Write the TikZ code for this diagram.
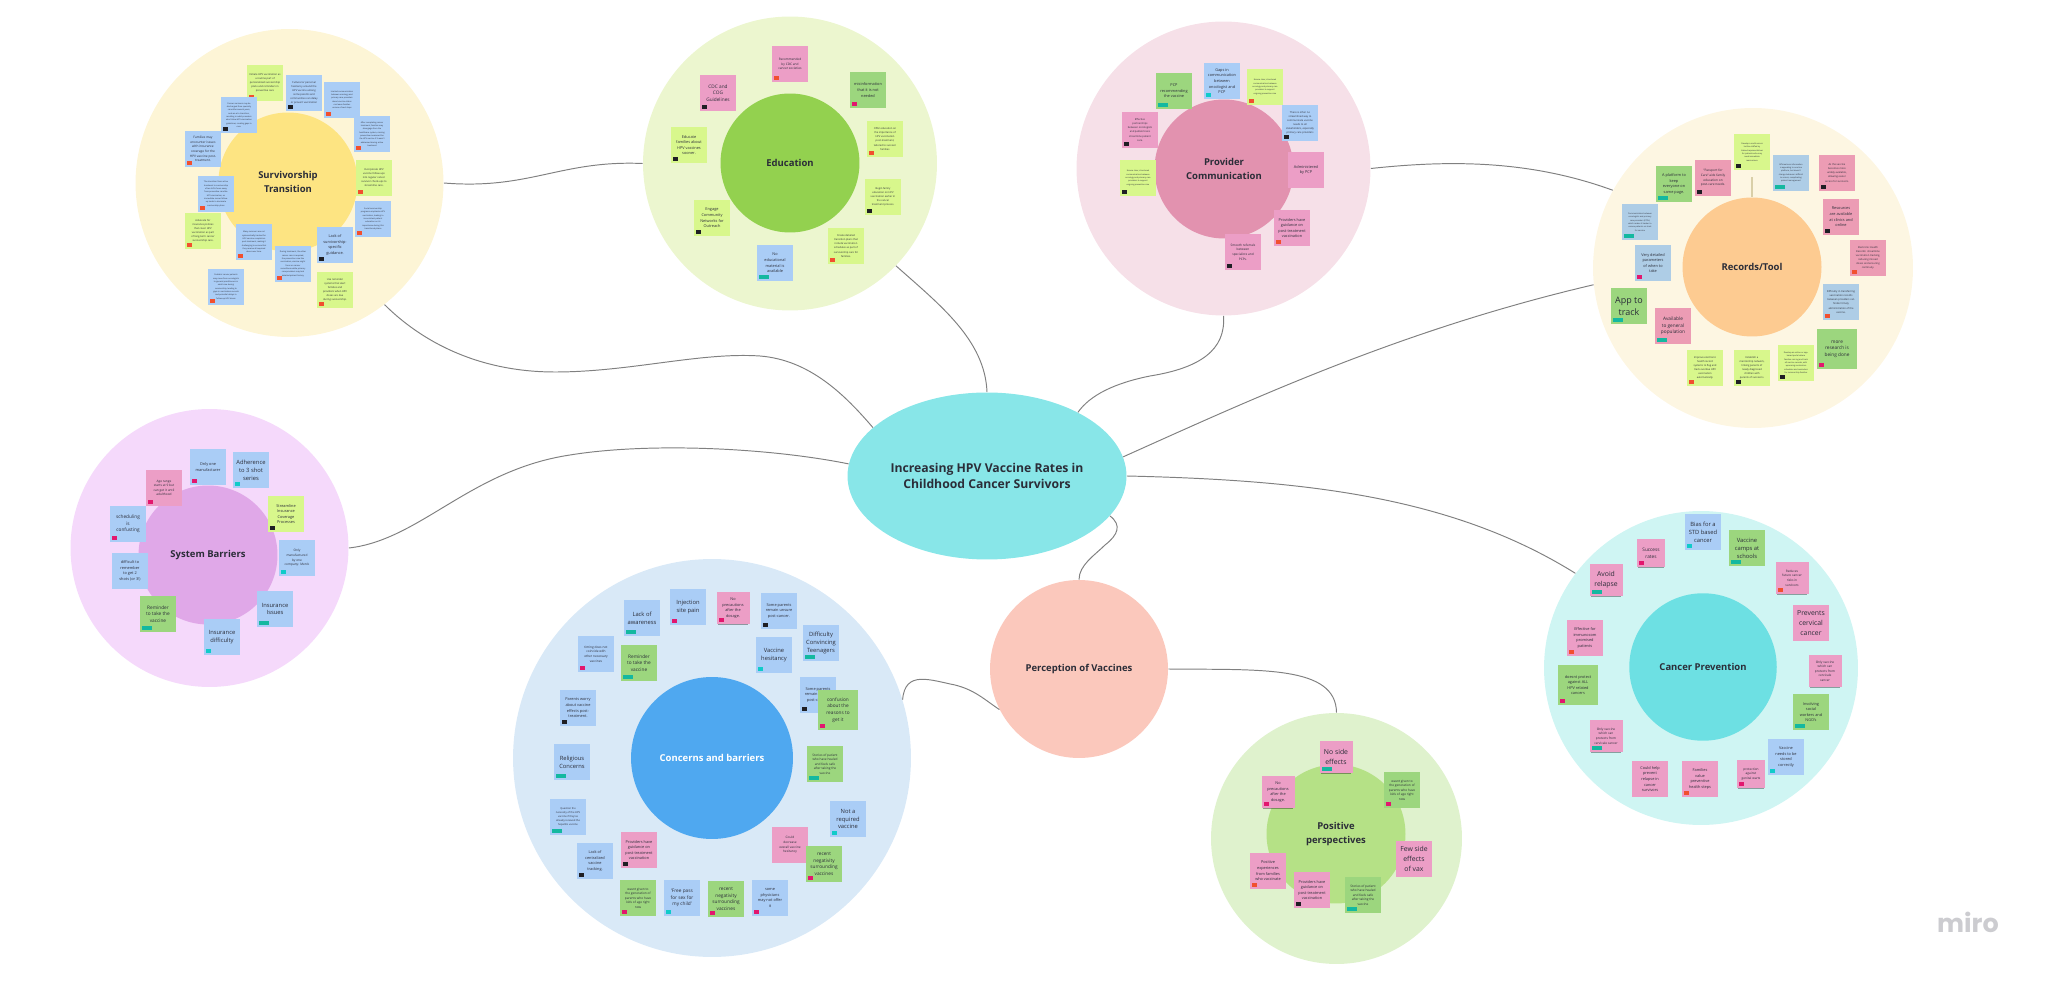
\documentclass[tikz,border=0pt]{standalone}
\usepackage{fontspec}
\setmainfont{Open Sans}
\newfontfamily\logofont{Poppins}
\usetikzlibrary{shapes.geometric,shadows}
\definecolor{ink}{HTML}{2B2D38}
\definecolor{nblue}{HTML}{AACDF6}
\definecolor{npink}{HTML}{EC9EC6}
\definecolor{ngreen}{HTML}{9CD67E}
\definecolor{nlime}{HTML}{D8F78C}
\definecolor{nsteel}{HTML}{AECDE6}
\definecolor{nrose}{HTML}{EC9CB4}
\definecolor{tagred}{HTML}{F1502F}
\definecolor{tagblack}{HTML}{1F1F24}
\definecolor{tagteal}{HTML}{14B8A0}
\definecolor{tagcyan}{HTML}{10CBC9}
\definecolor{tagmag}{HTML}{E2176E}
\definecolor{survring}{HTML}{FDF5D6}
\definecolor{survhub}{HTML}{FDE482}
\definecolor{eduring}{HTML}{ECF6CF}
\definecolor{eduhub}{HTML}{93D14F}
\definecolor{provring}{HTML}{F6E0E8}
\definecolor{provhub}{HTML}{E292AF}
\definecolor{recring}{HTML}{FDF6E2}
\definecolor{rechub}{HTML}{FDCB91}
\definecolor{sysring}{HTML}{F5D9FB}
\definecolor{syshub}{HTML}{E0A8E8}
\definecolor{concring}{HTML}{D9E9F7}
\definecolor{conchub}{HTML}{4FA8F0}
\definecolor{canring}{HTML}{CFF5F3}
\definecolor{canhub}{HTML}{6DE0E3}
\definecolor{posring}{HTML}{DFF2CD}
\definecolor{poshub}{HTML}{B5E186}
\definecolor{perchub}{HTML}{FBC8BC}
\definecolor{centralhub}{HTML}{88E6E8}
\definecolor{stemtan}{HTML}{D9CFA8}
\definecolor{logogray}{HTML}{CCCCD0}
\tikzset{
  fz/.style={font=\fontsize{1.15}{1.9}\selectfont},
  fa/.style={font=\fontsize{1.45}{2.3}\selectfont},
  fb/.style={font=\fontsize{1.8}{2.6}\selectfont},
  fc/.style={font=\fontsize{2.2}{3.2}\selectfont},
  fd/.style={font=\fontsize{2.7}{3.8}\selectfont},
  fe/.style={font=\fontsize{3.3}{4.5}\selectfont},
  ff/.style={font=\fontsize{3.9}{5.7}\selectfont},
  fg/.style={font=\fontsize{5.1}{7}\selectfont},
  note/.style={rectangle,minimum size=.72cm,inner sep=0pt,align=center,text=ink,
    general shadow={shadow xshift=0pt,shadow yshift=-1.4pt,shadow scale=.9,fill=black,opacity=.35}},
  bignote/.style={note,minimum size=.8cm},
  midnote/.style={note,minimum size=.66cm},
  smallnote/.style={note,minimum size=.56cm},
  tagged/.style n args={2}{path picture={\fill[#1] ([shift={(2,-2)}]path picture bounding box.south west) rectangle ++(#2,-4);}},
  tred/.style={tagged={tagred}{5}},
  tblk/.style={tagged={tagblack}{5}},
  tteal/.style={tagged={tagteal}{10}},
  tcyan/.style={tagged={tagcyan}{5}},
  tmag/.style={tagged={tagmag}{5}},
  ring/.style={circle,inner sep=0pt},
  hub/.style={circle,inner sep=0pt,minimum size=2.78cm,align=center,text=ink,font=\fontsize{5.4}{7.5}\selectfont\bfseries},
  link/.style={draw=black!50,line width=.55pt}
}
\begin{document}
\begin{tikzpicture}[x=0.02cm,y=-0.02cm]
	\useasboundingbox (0,0) rectangle (2048,982);
	% outer rings
	\node[ring,fill=survring,minimum size=6.16cm] (surv_o) at (289.5,183) {};
	\node[ring,fill=eduring,minimum size=5.88cm] (edu_o) at (790,163.5) {};
	\node[ring,fill=provring,minimum size=5.88cm] (prov_o) at (1223.5,168.5) {};
	\node[ring,fill=recring,minimum size=6.4cm] (rec_o) at (1753,268) {};
	\node[ring,fill=sysring,minimum size=5.56cm] (sys_o) at (209.5,548) {};
	\node[ring,fill=concring,minimum size=7.96cm] (conc_o) at (712,758) {};
	\node[ring,fill=canring,minimum size=6.28cm] (can_o) at (1701,668) {};
	\node[ring,fill=posring,minimum size=5.02cm] (pos_o) at (1336.5,838.5) {};
	% hubs
	\node[hub,fill=survhub] (surv) at (288,182) {Survivorship\\Transition};
	\node[hub,fill=eduhub] (edu) at (790,163) {Education};
	\node[hub,fill=provhub] (prov) at (1224,169) {Provider\\Communication};
	\node[hub,fill=rechub] (rec) at (1752,267) {Records/Tool};
	\node[hub,fill=syshub] (sys) at (208,555) {System Barriers};
	\node[hub,fill=conchub,minimum size=3.24cm,text=white] (conc) at (712,758) {Concerns and barriers};
	\node[hub,fill=canhub,minimum size=2.95cm] (can) at (1703,667) {Cancer Prevention};
	\node[hub,fill=poshub] (pos) at (1336,834) {Positive\\perspectives};
	\node[hub,fill=perchub,minimum size=3.56cm] (perc) at (1079,669) {Perception of Vaccines};
	\node[ellipse,inner sep=0pt,fill=centralhub,minimum width=5.58cm,minimum height=3.34cm,align=center,text=ink,font=\fontsize{6.95}{9}\selectfont\bfseries] (central) at (987,476) {Increasing HPV Vaccine Rates in\\Childhood Cancer Survivors};
	% connectors
	\draw[link] (surv_o.-52) .. controls (415,335) and (470,372) .. (555,372) .. controls (630,372) and (700,352) .. (760,356) .. controls (810,360) and (845,395) .. (central.157);
	\draw[link] (surv_o.0) .. controls (530,190) and (560,160) .. (edu_o.180);
	\draw[link] (edu_o.-44) .. controls (940,305) and (985,340) .. (central.90);
	\draw[link] (prov_o.-90) .. controls (1226,350) and (1200,368) .. (1150,376) .. controls (1115,383) and (1090,395) .. (central.35);
	\draw[link] (central.8) .. controls (1250,400) and (1400,330) .. (rec_o.186);
	\draw[link] (prov_o.0) .. controls (1450,160) and (1530,160) .. (rec_o.151);
	\draw[link] (central.0) .. controls (1300,480) and (1450,495) .. (can_o.143);
	\draw[link] (sys_o.0) .. controls (420,540) and (470,470) .. (570,455) .. controls (650,442) and (770,448) .. (central.175);
	\draw[link] (central.-18) .. controls (1122,525) and (1118,535) .. (1105,545) .. controls (1095,555) and (1079,565) .. (perc.90);
	\draw[link] (perc.207) .. controls (985,700) and (975,690) .. (955,685) .. controls (930,680) and (905,670) .. (conc_o.17);
	\draw[link] (perc.0) .. controls (1260,670) and (1336,665) .. (pos_o.90);
	% survivorship notes
	\node[note,fill=nlime,tred,fa] (surv_1) at (265,83) {Initiate HPV vaccination as\\a routine part of\\personalized survivorship\\plans and reminders in\\preventive care};
	\node[note,fill=nblue,tblk,fa] (surv_2) at (304,93) {Cultural or personal\\hesitancy around the\\HPV vaccine among\\some parents and\\communities can delay\\or prevent vaccination};
	\node[note,fill=nblue,tred,fz] (surv_3) at (342,100) {Limited communication\\between oncology and\\primary care providers\\about vaccine status\\can leave families\\unsure of next steps};
	\node[note,fill=nblue,tred,fz] (surv_4) at (372,134) {After completing cancer\\treatment, families may\\disengage from the\\healthcare system, missing\\preventive measures like\\the HPV vaccine if it wasn't\\addressed during active\\treatment};
	\node[note,fill=nlime,tred,fa] (surv_5) at (374,178) {Incorporate HPV\\vaccine follow-ups\\into regular cancer\\survivor check-ups to\\streamline care.};
	\node[note,fill=nblue,tred,fz] (surv_6) at (373,219) {Social survivorship\\programs emphasize HPV\\vaccination, leading to\\inconsistent patient\\education on its\\importance during this\\transitional phase};
	\node[note,fill=nblue,tblk,fc] (surv_7) at (335,245) {Lack of\\survivorship-\\specific\\guidance.};
	\node[note,fill=nlime,tred,fa] (surv_8) at (335,290) {Use reminder\\systems that alert\\families and\\providers when HPV\\doses are due\\during survivorship.};
	\node[note,fill=nblue,tred,fz] (surv_9) at (293,264) {During treatment, the other\\cancer care is required,\\the prevention care like\\vaccination, vaccine might\\focus on cancer\\surveillance while primary\\care providers may lack\\detailed patient history};
	\node[note,fill=nblue,tred,fz] (surv_10) at (254,242) {Many survivors are not\\systematically tracked for\\HPV vaccine completion\\post-treatment, making it\\challenging to ensure that\\they receive all required\\doses over time.};
	\node[note,fill=nblue,tred,fz] (surv_11) at (226,287) {Pediatric cancer patients\\may move from oncologists\\to general practitioners in\\adult care during\\survivorship, leading to\\gaps in vaccination records\\and potential delays in\\follow-up HPV doses};
	\node[note,fill=nlime,tred,fa] (surv_12) at (203,231) {Advocate for\\insurance policies\\that cover HPV\\vaccination as part\\of long-term cancer\\survivorship care.};
	\node[note,fill=nblue,tred,fz] (surv_13) at (216,194) {The transition from active\\treatment to survivorship\\often shifts focus away\\from preventive care like\\HPV vaccination, as\\immediate cancer follow-\\up tends to dominate\\survivorship plans};
	\node[note,fill=nblue,tred,fb] (surv_14) at (203,149) {Families may\\encounter issues\\with insurance\\coverage for the\\HPV vaccine post-\\treatment.};
	\node[note,fill=nblue,tblk,fz] (surv_15) at (239,115) {Cancer survivors may be\\discharged from specialty\\care after several years,\\and are at a transition,\\resulting in adult providers\\who follow HPV vaccination\\guidelines, creating gaps in\\care.};
	% education notes
	\node[note,fill=npink,tred,fb] (edu_1) at (790,64) {Recommended\\by CDC and\\cancer societies};
	\node[note,fill=ngreen,tmag,fc] (edu_2) at (868,90) {misinformation\\that it is not\\needed};
	\node[note,fill=nlime,tred,fa] (edu_3) at (885,139) {Offer education on\\the importance of\\HPV vaccination\\post-treatment,\\tailored to survivor\\families};
	\node[note,fill=nlime,tblk,fa] (edu_4) at (883,197) {Begin family\\education on HPV\\vaccination earlier in\\the cancer\\treatment process.};
	\node[note,fill=nlime,tred,fa] (edu_5) at (846,246) {Create detailed\\transition plans that\\include vaccination\\schedules as part of\\survivorship care for\\families.};
	\node[note,fill=nblue,tteal,fc] (edu_6) at (775,263) {No\\educational\\material is\\available};
	\node[note,fill=nlime,tblk,fc] (edu_7) at (712,218) {Engage\\Community\\Networks for\\Outreach};
	\node[note,fill=nlime,tblk,fc] (edu_8) at (689,145) {Educate\\families about\\HPV vaccines\\sooner.};
	\node[note,fill=npink,tblk,fd] (edu_9) at (718,93) {CDC and\\COG\\Guidelines};
	% provider notes
	\node[note,fill=ngreen,tteal,fc] (prov_1) at (1174,91) {PCP\\recommending\\the vaccine};
	\node[note,fill=nblue,tcyan,fc] (prov_2) at (1222,81) {Gaps in\\communication\\between\\oncologist and\\PCP};
	\node[note,fill=nlime,tred,fz] (prov_3) at (1265,87) {Ensure clear, structured\\communication between\\oncology and primary care\\providers to support\\ongoing preventive care};
	\node[note,fill=nblue,tblk,fa] (prov_4) at (1300,123) {There is often no\\streamlined way to\\communicate vaccine\\needs to all\\stakeholders, especially\\primary care providers};
	\node[note,fill=npink,fc] (prov_5) at (1306,170) {Administered\\by PCP};
	\node[note,fill=npink,tred,fc] (prov_6) at (1292,228) {Providers have\\guidance on\\post-treatment\\vaccination};
	\node[note,fill=npink,tblk,fb] (prov_7) at (1243,252) {Smooth referrals\\between\\specialists and\\PCPs.};
	\node[note,fill=npink,tblk,fa] (prov_8) at (1140,130) {Effective\\partnerships\\between oncologists\\and pediatricians\\streamline patient\\care.};
	\node[note,fill=nlime,tblk,fz] (prov_9) at (1138,178) {Ensure clear, structured\\communication between\\oncology and primary care\\providers to support\\ongoing preventive care};
	% records notes
	\node[note,fill=ngreen,tteal,fc] (rec_1) at (1674,184) {A platform to\\keep\\everyone on\\same page.};
	\node[note,fill=nrose,tblk,fb] (rec_2) at (1713,178) {"Passport for\\Care" aids family\\education on\\post-care needs.};
	\node[note,fill=nlime,tblk,fz] (rec_3) at (1752,152) {Develop a multi-access\\hotline staffed by\\trained representatives\\for patients who may\\need immediate\\reassurance};
	\node[note,fill=nsteel,tteal,fz] (rec_4) at (1791,173) {Affirmations information\\is appealing to one-line\\platform, but doesn't\\change behaviors difficult\\to access, complicating\\patient management};
	\node[note,fill=nrose,tblk,fa] (rec_5) at (1837,173) {As the vaccine\\becomes more\\widely available,\\allowing easier\\access for survivors.};
	\node[note,fill=nrose,tblk,fc] (rec_6) at (1841,217) {Resources\\are available\\at clinics and\\online};
	\node[note,fill=nrose,tred,fa] (rec_7) at (1868,258) {Electronic Health\\Records: streamline\\vaccination tracking,\\reducing missed\\doses and ensuring\\continuity.};
	\node[note,fill=nsteel,tred,fa] (rec_8) at (1841,302) {Difficulty in transferring\\vaccination records\\between providers can\\hinder timely\\administration of the\\vaccine.};
	\node[bignote,fill=ngreen,tmag,fd] (rec_9) at (1837,349) {more\\research is\\being done};
	\node[note,fill=nlime,tblk,fz] (rec_10) at (1796,363) {Develop an online or app-\\based portal where\\families can log and track\\all vaccine records, with\\upcoming vaccination\\schedules and reminders\\for survivorship families};
	\node[note,fill=nlime,tblk,fa] (rec_11) at (1752,368) {Establish a\\mentorship network,\\linking parents of\\newly diagnosed\\children with\\parents of survivors.};
	\node[note,fill=nlime,tred,fa] (rec_12) at (1705,368) {Improve electronic\\health record\\systems to flag and\\track overdue HPV\\vaccination\\automatically.};
	\node[note,fill=nrose,tteal,fd] (rec_13) at (1673,326) {Available\\to general\\population};
	\node[note,fill=ngreen,tteal,fg] (rec_14) at (1629,306) {App to\\track};
	\node[note,fill=nsteel,tmag,fc] (rec_15) at (1653,263) {Very detailed\\parameters\\of when to\\take};
	\node[note,fill=nsteel,tteal,fz] (rec_16) at (1640,222) {Communication between\\oncologists and primary\\care providers (PCPs)\\which makes it harder to\\ensure patients on track\\for vaccine};
	\draw[draw=stemtan,line width=1pt,shorten <=4pt] (rec_3) -- (rec);
	% system notes
	\node[note,fill=nblue,tmag,fc] (sys_1) at (208,467) {Only one\\manufacturer};
	\node[note,fill=nblue,tcyan,fe] (sys_2) at (251,470) {Adherence\\to 3 shot\\series};
	\node[note,fill=nlime,tblk,fc] (sys_3) at (286,514) {Streamline\\Insurance\\Coverage\\Processes};
	\node[note,fill=nblue,tcyan,fb] (sys_4) at (297,558) {Only\\manufactured\\by one\\company: Merck};
	\node[note,fill=nblue,tteal,fe] (sys_5) at (275,609) {Insurance\\Issues};
	\node[note,fill=nblue,tcyan,fe] (sys_6) at (222,637) {Insurance\\difficulty};
	\node[note,fill=ngreen,tteal,fd] (sys_7) at (158,614) {Reminder\\to take the\\vaccine};
	\node[note,fill=nblue,fc] (sys_8) at (130,571) {difficult to\\remember\\to get 2\\shots (or 3!)};
	\node[note,fill=nblue,tmag,fd] (sys_9) at (128,524) {scheduling\\is\\confusting};
	\node[note,fill=npink,tmag,fb] (sys_10) at (164,488) {Age range\\starts at 9 but\\can get it until\\adulthood};
	% concerns notes
	\node[note,fill=nblue,tmag,fe] (conc_1) at (688,607) {Injection\\site pain};
	\node[note,fill=nblue,tteal,fe] (conc_2) at (642,618) {Lack of\\awareness};
	\node[note,fill=ngreen,tteal,fd] (conc_3) at (639,663) {Reminder\\to take the\\vaccine};
	\node[note,fill=nblue,tmag,fb] (conc_4) at (596,654) {timing does not\\coincide with\\other necessary\\vaccines};
	\node[note,fill=nblue,tblk,fc] (conc_5) at (578,708) {Parents worry\\about vaccine\\effects post-\\treatment.};
	\node[note,fill=nblue,tteal,fe] (conc_6) at (572,762) {Religious\\Concerns};
	\node[note,fill=nblue,tteal,fa] (conc_7) at (568,817) {Question the\\necessity of the HPV\\vaccine if they've\\already received the\\hepatitis vaccine};
	\node[note,fill=nblue,tblk,fc] (conc_8) at (595,861) {Lack of\\centralized\\vaccine\\tracking.};
	\node[note,fill=npink,tblk,fc] (conc_9) at (639,850) {Providers have\\guidance on\\post-treatment\\vaccination};
	\node[note,fill=ngreen,tmag,fb] (conc_10) at (638,898) {wasnt given to\\the generation of\\parents who have\\kids of age right\\now};
	\node[note,fill=nblue,tcyan,fd] (conc_11) at (682,898) {'Free pass\\for sex for\\my child'};
	\node[note,fill=ngreen,tmag,fd] (conc_12) at (726,899) {recent\\negativity\\surrounding\\vaccines};
	\node[note,fill=nblue,tmag,fc] (conc_13) at (770,898) {some\\physicians\\may not offer\\it};
	\node[note,fill=nblue,tblk,fc] (conc_14) at (818,695) {Some parents\\remain unsure\\post-cancer.};
	\node[bignote,fill=ngreen,tmag,fd] (conc_15) at (838,710) {confusion\\about the\\reasons to\\get it};
	\node[note,fill=npink,fb] (conc_16) at (790,845) {Could\\decrease\\overall vaccine\\hesitancy};
	\node[note,fill=ngreen,tmag,fd] (conc_17) at (824,864) {recent\\negativity\\surrounding\\vaccines};
	\node[note,fill=nblue,tcyan,fe] (conc_18) at (848,819) {Not a\\required\\vaccine};
	\node[note,fill=ngreen,tteal,fb] (conc_19) at (825,764) {Stories of patient\\who have healed\\and feels safe\\after taking the\\vaccine};
	\node[note,fill=nblue,tteal,fe] (conc_20) at (821,643) {Difficulty\\Convincing\\Teenagers};
	\node[note,fill=nblue,tcyan,fe] (conc_21) at (774,655) {Vaccine\\hesitancy};
	\node[note,fill=nblue,tblk,fc] (conc_22) at (779,611) {Some parents\\remain unsure\\post-cancer.};
	\node[midnote,fill=npink,tmag,fc] (conc_23) at (733,608) {No\\precautions\\after the\\dosage.};
	% positive notes
	\node[midnote,fill=npink,tteal,ff] (pos_1) at (1336,757) {No side\\effects};
	\node[note,fill=ngreen,tmag,fb] (pos_2) at (1402,790) {wasnt given to\\the generation of\\parents who have\\kids of age right\\now};
	\node[midnote,fill=npink,tmag,fc] (pos_3) at (1278,792) {No\\precautions\\after the\\dosage.};
	\node[note,fill=npink,ff] (pos_4) at (1414,859) {Few side\\effects\\of vax};
	\node[note,fill=ngreen,tteal,fb] (pos_5) at (1363,895) {Stories of patient\\who have healed\\and feels safe\\after taking the\\vaccine};
	\node[note,fill=npink,tblk,fc] (pos_6) at (1312,890) {Providers have\\guidance on\\post-treatment\\vaccination};
	\node[note,fill=npink,tred,fc] (pos_7) at (1268,871) {Positive\\experiences\\from families\\who vaccinate};
	% cancer notes
	\node[note,fill=nblue,tcyan,fe] (can_1) at (1703,532) {Bias for a\\STD based\\cancer};
	\node[note,fill=ngreen,tteal,fe] (can_2) at (1747,548) {Vaccine\\camps at\\schools};
	\node[smallnote,fill=npink,tmag,fd] (can_3) at (1651,553) {Success\\rates};
	\node[midnote,fill=npink,tteal,ff] (can_4) at (1606,580) {Avoid\\relapse};
	\node[midnote,fill=npink,tred,fb] (can_5) at (1792,578) {Reduces\\future cancer\\risks in\\survivors};
	\node[note,fill=npink,ff] (can_6) at (1811,623) {Prevents\\cervical\\cancer};
	\node[midnote,fill=npink,fb] (can_7) at (1825,671) {Only vaccine\\which can\\protects from\\cervicale\\cancer};
	\node[note,fill=ngreen,tteal,fc] (can_8) at (1811,712) {Involving\\social\\workers and\\NGO's};
	\node[note,fill=nblue,tcyan,fc] (can_9) at (1786,757) {Vaccine\\needs to be\\stored\\correctly};
	\node[smallnote,fill=npink,tmag,fb] (can_10) at (1751,774) {protection\\against\\genital warts};
	\node[note,fill=npink,tred,fc] (can_11) at (1700,779) {Families\\value\\preventive\\health steps};
	\node[note,fill=npink,fc] (can_12) at (1650,779) {Could help\\prevent\\relapse in\\cancer\\survivors};
	\node[midnote,fill=npink,tteal,fb] (can_13) at (1606,736) {Only vaccine\\which can\\protects from\\cervicale cancer};
	\node[bignote,fill=ngreen,tmag,fc] (can_14) at (1578,685) {doesnt protect\\against ALL\\HPV related\\cancers};
	\node[note,fill=npink,tred,fc] (can_15) at (1585,638) {Effective for\\immunocom\\promised\\patients};
	% logo
	\node[text=logogray,font=\logofont\bfseries\fontsize{14.5}{16}\selectfont] (logo) at (1968,922) {miro};
\end{tikzpicture}
\end{document}
